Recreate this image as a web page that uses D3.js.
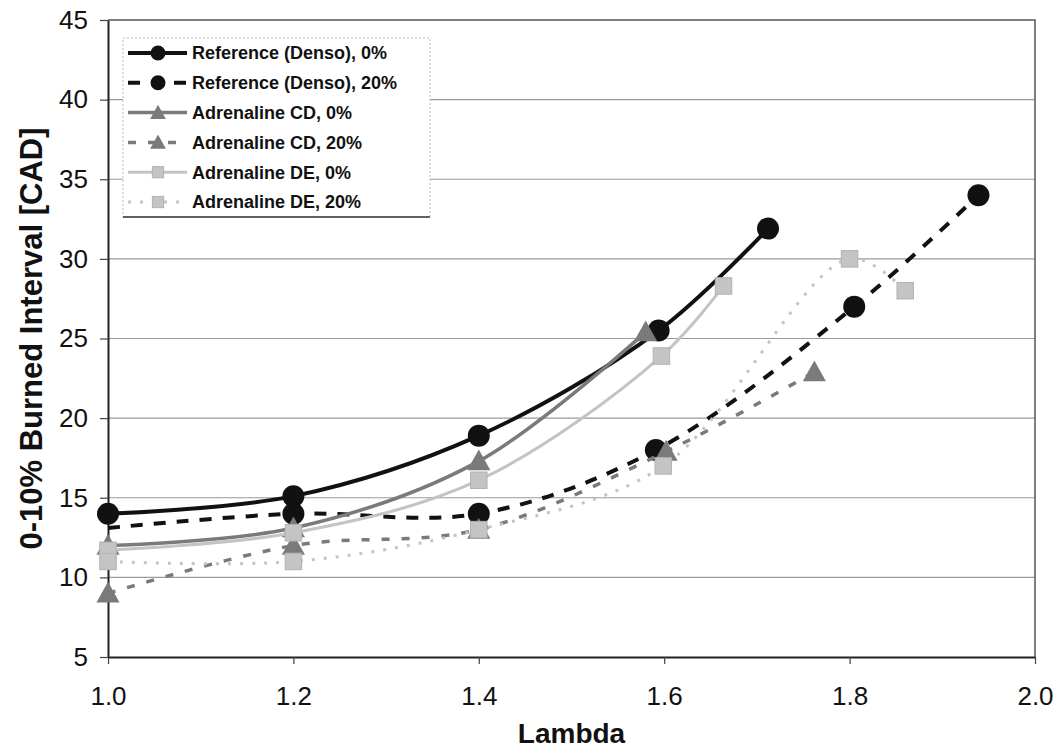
<!DOCTYPE html>
<html lang="en">
<head>
  <meta charset="UTF-8">
  <title>Burned interval vs lambda</title>
  <script src="https://d3js.org/d3.v7.min.js"></script>
  <style>
    body { margin: 0; background: #fff; }
    text { font-family: "Liberation Sans", Arial, sans-serif; }
  </style>
</head>
<body>
  <svg id="chart" width="1059" height="750"></svg>

  <script>
    // series data: [lambda, CAD]
    const refDenso0   = [[1.0, 14.0], [1.2, 15.1], [1.4, 18.9], [1.594, 25.5], [1.712, 31.9]];
    const refDenso20  = [[1.0, 13.1], [1.2, 14.0], [1.4, 14.0], [1.591, 18.0], [1.805, 27.0], [1.939, 34.0]];
    const adrenCD0    = [[1.0, 12.0], [1.2, 13.1], [1.4, 17.3], [1.58, 25.4]];
    const adrenCD20   = [[1.0, 9.0], [1.2, 12.0], [1.4, 13.0], [1.602, 17.9], [1.762, 22.9]];
    const adrenDE0    = [[1.0, 11.7], [1.2, 12.8], [1.4, 16.1], [1.597, 23.9], [1.664, 28.3]];
    const adrenDE20   = [[1.0, 11.0], [1.2, 11.0], [1.4, 13.0], [1.599, 17.0], [1.8, 30.0], [1.86, 28.0]];

    const seriesNames = [
      "Reference (Denso), 0%", "Reference (Denso), 20%",
      "Adrenaline CD, 0%", "Adrenaline CD, 20%",
      "Adrenaline DE, 0%", "Adrenaline DE, 20%"
    ];
    const seriesData = [refDenso0, refDenso20, adrenCD0, adrenCD20, adrenDE0, adrenDE20];
    // points drawn without a marker: [series index, point index]
    const unmarked = [[1, 0]];

    const xTicks = [1.0, 1.2, 1.4, 1.6, 1.8, 2.0];
    const yTicks = [5, 10, 15, 20, 25, 30, 35, 40, 45];

    // look of each series
    const styles = [
      { color: "#111", width: 4,   dash: null,    shape: "circle" },
      { color: "#111", width: 4,   dash: "12,11", shape: "circle" },
      { color: "#7a7a7a", width: 3.5, dash: null,  shape: "triangle" },
      { color: "#7a7a7a", width: 3.5, dash: "8,12", shape: "triangle" },
      { color: "#c4c4c4", width: 3, dash: null,    shape: "square" },
      { color: "#c4c4c4", width: 3, dash: "3,9",   shape: "square" }
    ];

    const svg = d3.select("#chart");
    const plotL = 108, plotR = 1035, plotT = 20, plotB = 657;

    const x = d3.scaleLinear().domain([1, 2]).range([plotL, plotR]);
    const y = d3.scaleLinear().domain([5, 45]).range([plotB, plotT]);

    // gridlines
    svg.append("g")
      .selectAll("line")
      .data(yTicks.filter(t => t > 5 && t < 45))
      .join("line")
        .attr("x1", plotL).attr("x2", plotR)
        .attr("y1", d => y(d)).attr("y2", d => y(d))
        .attr("stroke", "#9a9a9a")
        .attr("stroke-width", 1.2);

    // plot border (top and right)
    svg.append("path")
      .attr("d", `M${plotL},${plotT}H${plotR}V${plotB}`)
      .attr("fill", "none")
      .attr("stroke", "#555")
      .attr("stroke-width", 1.5);

    // axes
    const xAxis = svg.append("g")
      .attr("transform", `translate(0,${plotB})`)
      .call(d3.axisBottom(x).tickValues(xTicks).tickFormat(d3.format(".1f"))
        .tickSizeInner(7).tickSizeOuter(0).tickPadding(22));
    const yAxis = svg.append("g")
      .attr("transform", `translate(${plotL},0)`)
      .call(d3.axisLeft(y).tickValues(yTicks).tickSizeInner(8).tickSizeOuter(0).tickPadding(12));

    [xAxis, yAxis].forEach(a => {
      a.select(".domain").attr("stroke", "#222").attr("stroke-width", 2);
      a.selectAll(".tick line").attr("stroke", "#444").attr("stroke-width", 1.2);
      a.selectAll("text")
        .attr("fill", "#111")
        .style("font-family", "'Liberation Sans', Arial, sans-serif")
        .style("font-size", "26px");
    });
    xAxis.selectAll(".tick text").attr("dy", "0").attr("y", 48);

    // axis titles
    svg.append("text")
      .attr("x", (plotL + plotR) / 2).attr("y", 743)
      .attr("text-anchor", "middle")
      .style("font-size", "28px").style("font-weight", "bold")
      .attr("fill", "#111")
      .text("Lambda");

    svg.append("text")
      .attr("transform", `translate(42,${(plotT + plotB) / 2}) rotate(-90)`)
      .attr("text-anchor", "middle")
      .style("font-size", "31px").style("font-weight", "bold")
      .attr("fill", "#111")
      .text("0-10% Burned Interval [CAD]");

    // marker drawing
    function marker(sel, shape, color, size) {
      if (shape === "circle") {
        sel.append("circle").attr("r", size).attr("fill", color);
      } else if (shape === "triangle") {
        const s = size * 1.05;
        sel.append("path")
          .attr("d", `M0,${-s}L${s},${s * 0.8}L${-s},${s * 0.8}Z`)
          .attr("fill", color);
      } else {
        const s = size * 0.75;
        sel.append("rect")
          .attr("x", -s).attr("y", -s).attr("width", 2 * s).attr("height", 2 * s)
          .attr("fill", color).attr("stroke", "#b2b2b2").attr("stroke-width", 1);
      }
    }

    const line = d3.line()
      .x(d => x(d[0]))
      .y(d => y(d[1]))
      .curve(d3.curveCatmullRom.alpha(0.5));

    seriesData.forEach((data, i) => {
      const st = styles[i];
      const g = svg.append("g");
      g.append("path")
        .datum(data)
        .attr("d", line)
        .attr("fill", "none")
        .attr("stroke", st.color)
        .attr("stroke-width", st.width)
        .attr("stroke-dasharray", st.dash);
      data.forEach((p, j) => {
        if (unmarked.some(u => u[0] === i && u[1] === j)) return;
        const m = g.append("g").attr("transform", `translate(${x(p[0])},${y(p[1])})`);
        marker(m, st.shape, st.color, 11);
      });
    });

    // legend
    const legend = svg.append("g");
    legend.append("rect")
      .attr("x", 123).attr("y", 38).attr("width", 307).attr("height", 179)
      .attr("fill", "#fff")
      .attr("stroke", "#bbb")
      .attr("stroke-dasharray", "2,2");
    legend.append("line")
      .attr("x1", 123).attr("x2", 430).attr("y1", 217).attr("y2", 217)
      .attr("stroke", "#333").attr("stroke-width", 1.5);

    seriesNames.forEach((name, i) => {
      const st = styles[i];
      const ly = 53 + i * 29.8;
      const row = legend.append("g").attr("transform", `translate(0,${ly})`);
      row.append("line")
        .attr("x1", 128).attr("x2", 187)
        .attr("stroke", st.color)
        .attr("stroke-width", st.width)
        .attr("stroke-dasharray", st.dash);
      const m = row.append("g").attr("transform", "translate(158,0)");
      marker(m, st.shape, st.color, 7.5);
      row.append("text")
        .attr("x", 192).attr("y", 0).attr("dy", "0.35em")
        .style("font-size", "18px").style("font-weight", "bold")
        .attr("fill", "#111")
        .text(name);
    });
  </script>
</body>
</html>
